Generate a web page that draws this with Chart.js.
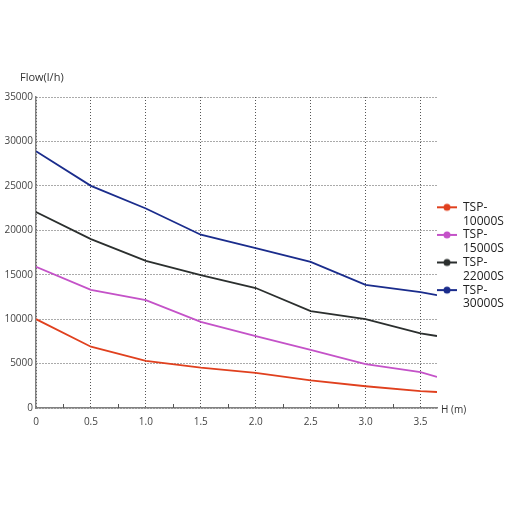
<!DOCTYPE html>
<html>
<head>
<meta charset="utf-8">
<script src="https://cdn.jsdelivr.net/npm/chart.js@4.4.0/dist/chart.umd.min.js"></script>
<style>
  html, body { margin: 0; padding: 0; background: #fff; }
  #wrap { width: 508px; height: 508px; }
</style>
</head>
<body>
<div id="wrap"><canvas id="pumpChart"></canvas></div>
<script>
const heads = [0, 0.5, 1.0, 1.5, 2.0, 2.5, 3.0, 3.5, 3.65];
const xTickValues = [0, 0.5, 1.0, 1.5, 2.0, 2.5, 3.0, 3.5];

// flow (l/h) per model
const flow10000 = [10000, 6900, 5300, 4550, 3950, 3100, 2450, 1900, 1800];
const flow15000 = [15900, 13300, 12150, 9700, 8100, 6550, 4950, 4050, 3500];
const flow22000 = [22050, 19000, 16550, 14950, 13500, 10900, 10000, 8400, 8100];
const flow30000 = [28900, 25000, 22450, 19500, 18000, 16450, 13850, 13050, 12700];

const modelNames = [["TSP-", "10000S"], ["TSP-", "15000S"], ["TSP-", "22000S"], ["TSP-", "30000S"]];
const lineColors = ['#e0401e', '#c452c8', '#2b2f2e', '#1a2c8c'];

// little "line with a dot" legend marker
function makeMarker(color) {
    const c = document.createElement('canvas');
    c.width = 20;
    c.height = 10;
    const g = c.getContext('2d');
    g.strokeStyle = color;
    g.lineWidth = 2;
    g.beginPath();
    g.moveTo(0, 5);
    g.lineTo(20, 5);
    g.stroke();
    g.fillStyle = color;
    g.beginPath();
    g.arc(10, 5, 3.5, 0, Math.PI * 2);
    g.fill();
    return c;
}

function toPoints(values) {
    return values.map((v, i) => ({x: heads[i], y: v}));
}

const allFlows = [flow10000, flow15000, flow22000, flow30000];

const datasets = allFlows.map((values, i) => ({
    label: modelNames[i],
    data: toPoints(values),
    borderColor: lineColors[i],
    backgroundColor: lineColors[i],
    borderWidth: 1.8,
    pointRadius: 0,
    tension: 0,
    pointStyle: makeMarker(lineColors[i])
}));

// axis captions + small minor ticks on the H axis
const extrasPlugin = {
    id: 'extras',
    afterLayout(chart) {
        // nudge the legend column up a little
        chart.legend.top -= 6;
        chart.legend.bottom -= 6;
    },
    afterDraw(chart) {
        const ctx = chart.ctx;
        const area = chart.chartArea;
        const xs = chart.scales.x;
        ctx.save();
        ctx.strokeStyle = '#555';
        ctx.lineWidth = 1;
        for (let v = 0.25; v < 3.65; v += 0.5) {
            const px = Math.round(xs.getPixelForValue(v)) + 0.5;
            ctx.beginPath();
            ctx.moveTo(px, area.bottom);
            ctx.lineTo(px, area.bottom - 4);
            ctx.stroke();
        }
        ctx.fillStyle = '#333';
        ctx.textBaseline = 'middle';
        ctx.textAlign = 'left';
        ctx.font = '11px "Open Sans"';
        ctx.fillText('Flow(l/h)', 20, area.top - 19);
        ctx.font = '10px "Open Sans"';
        ctx.fillText('H (m)', area.right + 4, area.bottom + 2);
        ctx.restore();
    }
};

const config = {
    type: 'line',
    data: {datasets: datasets},
    options: {
        responsive: true,
        maintainAspectRatio: false,
        animation: false,
        layout: {
            padding: {top: 97, bottom: 80, left: 0, right: 0}
        },
        scales: {
            x: {
                type: 'linear',
                min: 0,
                max: 3.65,
                afterBuildTicks(scale) {
                    scale.ticks = xTickValues.map(v => ({value: v}));
                },
                afterFit(scale) {
                    scale.height = 20;
                },
                grid: {color: '#555', lineWidth: 1, drawTicks: false},
                border: {display: true, color: '#808080', width: 1.5, dash: [1, 2]},
                ticks: {
                    color: '#444',
                    font: {family: 'Open Sans', size: 10},
                    padding: 8,
                    maxRotation: 0,
                    callback: v => (v === 0 ? '0' : v.toFixed(1))
                }
            },
            y: {
                min: 0,
                max: 35000,
                afterFit(scale) {
                    scale.width = 36;
                },
                grid: {color: '#555', lineWidth: 1, drawTicks: false},
                border: {display: true, color: '#808080', width: 1.5, dash: [1, 2]},
                ticks: {
                    stepSize: 5000,
                    color: '#444',
                    font: {family: 'Open Sans', size: 10},
                    padding: 3,
                    callback: v => String(v)
                }
            }
        },
        plugins: {
            legend: {
                position: 'right',
                maxWidth: 71,
                labels: {
                    usePointStyle: true,
                    pointStyleWidth: 20,
                    boxWidth: 20,
                    padding: 0,
                    color: '#222',
                    font: {family: 'Open Sans', size: 12, lineHeight: 1.15}
                }
            },
            tooltip: {enabled: false}
        }
    },
    plugins: [extrasPlugin]
};

const graphChart = new Chart(document.getElementById('pumpChart'), config);
</script>
</body>
</html>
